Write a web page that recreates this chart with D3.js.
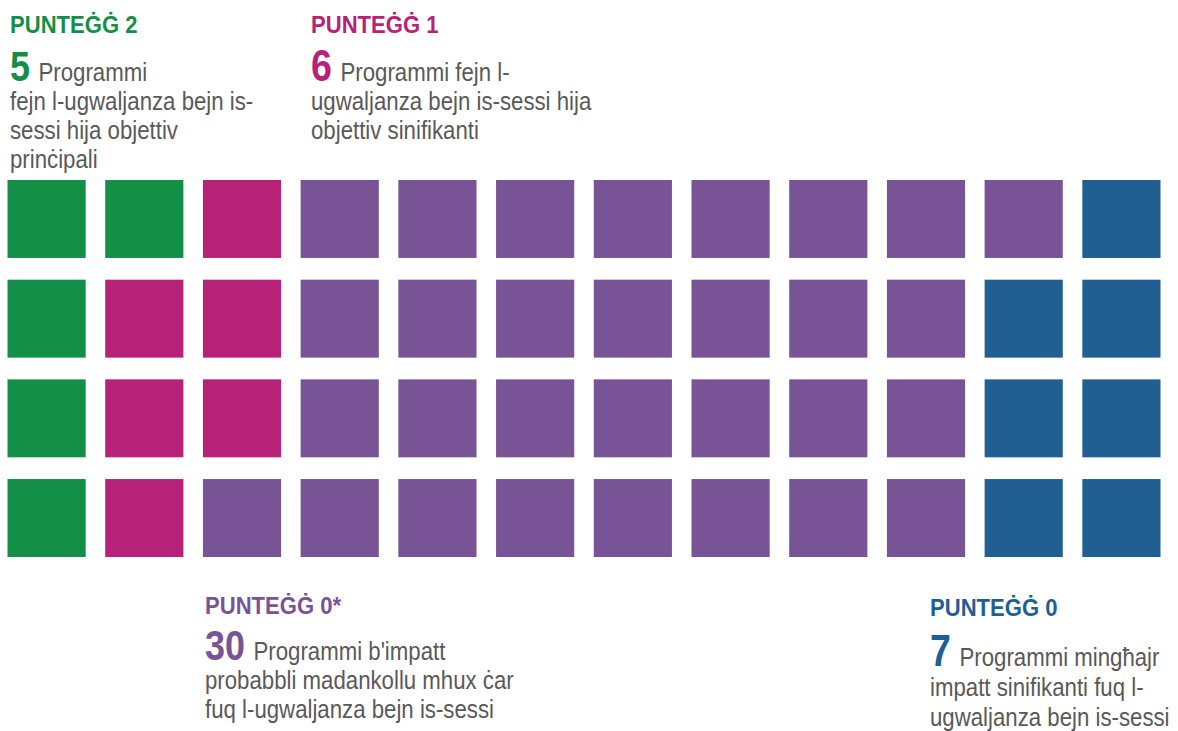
<!DOCTYPE html>
<html>
<head>
<meta charset="utf-8">
<script src="https://cdn.jsdelivr.net/npm/d3@7"></script>
<style>
  html, body { margin: 0; padding: 0; background: #fff; }
  svg { display: block; }
</style>
</head>
<body>
<div id="chart"></div>
<script>
// Data
const categories = ["PUNTEĠĠ 2", "PUNTEĠĠ 1", "PUNTEĠĠ 0*", "PUNTEĠĠ 0"];
const counts = [5, 6, 30, 7];
const firstLines = ["Programmi", "Programmi fejn l-", "Programmi b'impatt", "Programmi mingħajr"];
const moreLines = [
  ["fejn l-ugwaljanza bejn is-", "sessi hija objettiv", "prinċipali"],
  ["ugwaljanza bejn is-sessi hija", "objettiv sinifikanti"],
  ["probabbli madankollu mhux ċar", "fuq l-ugwaljanza bejn is-sessi"],
  ["impatt sinifikanti fuq l-", "ugwaljanza bejn is-sessi"],
];
const columns = d3.range(12);
const rows = d3.range(4);

// Layout / styles
const WIDTH = 1178;
const HEIGHT = 731;
const palette = ["#138f47", "#b82178", "#785396", "#215f93"];
const TEXT_GREY = "#595959";
const FONT = "'Liberation Sans', Arial, sans-serif";
const BODY_SIZE = 26;
const BODY_SQUEEZE = 0.855;
const TITLE_SQUEEZE = 0.92;

// per-label anchor: x, title baseline, first line baseline, line gap, digit size
const labelLayout = [
  { x: 10, title: 33, first: 81, gap: 29, num: 42 },
  { x: 311, title: 33, first: 81, gap: 29, num: 44 },
  { x: 205, title: 614, first: 660, gap: 29, num: 42 },
  { x: 930, title: 616, first: 666, gap: 30, num: 44 },
];

const color = d3.scaleOrdinal().domain(categories).range(palette);

// one cell per programme, filled column by column
const cells = categories.flatMap((c, i) => d3.range(counts[i]).map(() => c))
  .map((cat, i) => ({ cat, col: Math.floor(i / rows.length), row: i % rows.length }));

const x = d3.scaleBand().domain(columns).range([7.5, 1160.5]).paddingInner(0.2);
const y = d3.scaleBand().domain(rows).range([180, 557]).paddingInner(0.218);

const svg = d3.select("#chart").append("svg")
  .attr("width", WIDTH)
  .attr("height", HEIGHT);

svg.append("g")
  .selectAll("rect")
  .data(cells)
  .join("rect")
  .attr("x", (d) => x(d.col))
  .attr("y", (d) => y(d.row))
  .attr("width", x.bandwidth())
  .attr("height", y.bandwidth())
  .attr("fill", (d) => color(d.cat));

// Labels
const labels = svg.append("g")
  .selectAll("g")
  .data(categories.map((c, i) => ({ cat: c, count: counts[i], first: firstLines[i], lines: moreLines[i], pos: labelLayout[i] })))
  .join("g")
  .attr("font-family", FONT);

labels.append("text")
  .attr("transform", (d) => `translate(${d.pos.x},${d.pos.title}) scale(${TITLE_SQUEEZE},1)`)
  .attr("font-size", 24)
  .attr("font-weight", "bold")
  .attr("fill", (d) => color(d.cat))
  .text((d) => d.cat);

const firstRow = labels.append("text")
  .attr("transform", (d) => `translate(${d.pos.x},${d.pos.first}) scale(${BODY_SQUEEZE},1)`);

firstRow.append("tspan")
  .attr("font-size", (d) => d.pos.num)
  .attr("font-weight", "bold")
  .attr("fill", (d) => color(d.cat))
  .text((d) => d.count);

firstRow.append("tspan")
  .attr("dx", 10)
  .attr("font-size", BODY_SIZE)
  .attr("fill", TEXT_GREY)
  .text((d) => d.first);

labels.each(function (d) {
  d3.select(this).selectAll("text.line")
    .data(d.lines)
    .join("text")
    .attr("class", "line")
    .attr("transform", (t, i) => `translate(${d.pos.x},${d.pos.first + (i + 1) * d.pos.gap}) scale(${BODY_SQUEEZE},1)`)
    .attr("font-size", BODY_SIZE)
    .attr("fill", TEXT_GREY)
    .text((t) => t);
});
</script>
</body>
</html>
